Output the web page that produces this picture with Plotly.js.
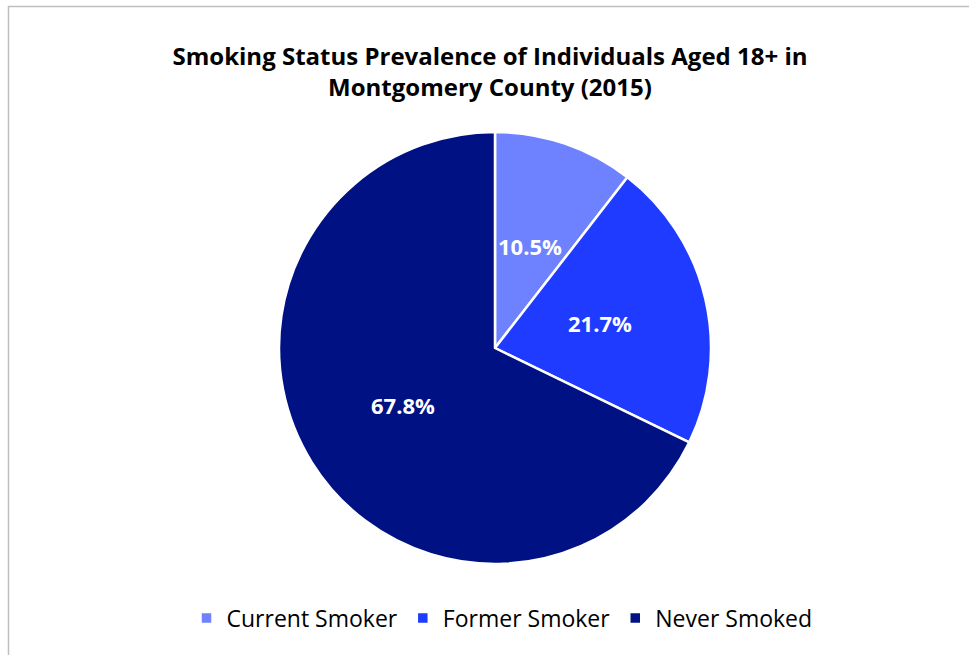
<!DOCTYPE html>
<html>
<head>
<meta charset="utf-8">
<script src="https://cdn.plot.ly/plotly-3.0.1.min.js"></script>
<style>
html,body{margin:0;padding:0;background:#fff;}
#chart{width:969px;height:655px;}
</style>
</head>
<body>
<div id="chart"></div>
<script>
var categories = ["Current Smoker", "Former Smoker", "Never Smoked"];
var percentages = [10.5, 21.7, 67.8];
var sliceColors = ["#6E82FF", "#1F3BFF", "#001283"];

var W = 969, H = 655;
var cx = 495, cy = 348, R = 216;
var FONT = "'Open Sans', Lato, sans-serif";

var trace = {
  type: "pie",
  labels: categories,
  values: percentages,
  sort: false,
  direction: "clockwise",
  rotation: 0,
  marker: {colors: sliceColors, line: {color: "#ffffff", width: 2.5}},
  textinfo: "none",
  hoverinfo: "label+value",
  domain: {x: [(cx - R) / W, (cx + R) / W], y: [1 - (cy + R) / H, 1 - (cy - R) / H]}
};

// data labels placed at half radius along each slice's mid-angle (computed from the values)
var total = percentages.reduce(function (a, b) { return a + b; }, 0);
var annotations = [];
var cum = 0;
percentages.forEach(function (v) {
  var mid = (cum + v / 2) / total * 2 * Math.PI;
  cum += v;
  var r = 0.5 * R;
  annotations.push({
    xref: "paper", yref: "paper",
    x: (cx + r * Math.sin(mid)) / W,
    y: 1 - (cy - r * Math.cos(mid)) / H,
    xanchor: "center", yanchor: "middle",
    text: "<b>" + v.toFixed(1) + "%</b>",
    showarrow: false,
    font: {family: FONT, size: 22, color: "#ffffff"}
  });
});

var layout = {
  width: W, height: H,
  margin: {l: 0, r: 0, t: 0, b: 0},
  paper_bgcolor: "#ffffff",
  title: {
    text: "<b>Smoking Status Prevalence of Individuals Aged 18+ in<br>Montgomery County (2015)</b>",
    font: {family: FONT, size: 24, color: "#000000"},
    x: 490 / W, xanchor: "center",
    y: 1 - 65 / H, yanchor: "middle"
  },
  showlegend: true,
  legend: {
    orientation: "h",
    x: 502 / W, xanchor: "center",
    y: 1 - 618 / H, yanchor: "middle",
    font: {family: FONT, size: 23, color: "#000000"},
    traceorder: "normal",
    itemclick: false
  },
  annotations: annotations,
  shapes: [{
    type: "rect", xref: "paper", yref: "paper",
    x0: 8.5 / W, x1: 1.1, y0: -0.1, y1: 1 - 6.5 / H,
    line: {color: "#bfbfbf", width: 1.5}, fillcolor: "rgba(0,0,0,0)"
  }]
};

Plotly.newPlot("chart", [trace], layout, {displayModeBar: false, staticPlot: true});
</script>
</body>
</html>
